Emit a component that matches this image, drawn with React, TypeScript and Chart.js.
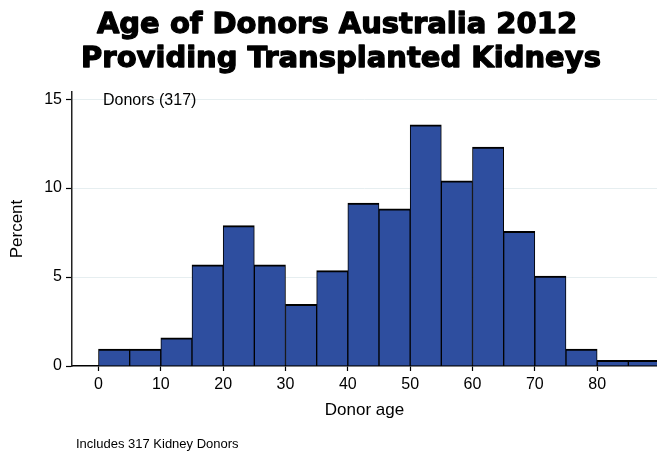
import React, { useEffect, useRef } from "react";
import { Chart, registerables } from "chart.js";

Chart.register(...registerables);

const binStarts = [0, 5, 10, 15, 20, 25, 30, 35, 40, 45, 50, 55, 60, 65, 70, 75, 80, 85];
const binWidth = 5;
const percents = [0.95, 0.95, 1.58, 5.68, 7.89, 5.68, 3.47, 5.36, 9.15, 8.83, 13.56, 10.41, 12.3, 7.57, 5.05, 0.95, 0.32, 0.32];
const xTicks = [0, 10, 20, 30, 40, 50, 60, 70, 80];
const yTicks = [0, 5, 10, 15];
const titleLines = ["Age of Donors Australia 2012", "Providing Transplanted Kidneys"];
const legendText = "Donors (317)";
const noteText = "Includes 317 Kidney Donors";

const textPlugin = {
  id: "textPlugin",
  afterDraw(chart: any) {
    const ctx = chart.ctx;
    const area = chart.chartArea;
    ctx.save();
    ctx.fillStyle = "#000";
    ctx.strokeStyle = "#000";
    ctx.textAlign = "center";
    ctx.textBaseline = "alphabetic";
    ctx.font = 'bold 29px "DejaVu Sans"';
    ctx.lineWidth = 1.3;
    ctx.lineJoin = "round";
    ctx.fillText(titleLines[0], 337, 33);
    ctx.strokeText(titleLines[0], 337, 33);
    ctx.fillText(titleLines[1], 341, 67);
    ctx.strokeText(titleLines[1], 341, 67);
    ctx.textAlign = "left";
    ctx.textBaseline = "middle";
    ctx.font = '16px "Liberation Sans"';
    ctx.fillText(legendText, area.left + 31, area.top + 9);
    ctx.font = '13px "Liberation Sans"';
    ctx.fillText(noteText, 76, 444);
    ctx.restore();
  },
};

export default function App() {
  const ref = useRef<HTMLCanvasElement>(null);
  useEffect(() => {
    document.body.style.margin = "0";
    const data = binStarts.map((s, i) => ({ x: s + binWidth / 2, y: percents[i] }));
    const chart = new Chart(ref.current!, {
      type: "bar",
      data: {
        datasets: [
          {
            data: data as any,
            backgroundColor: "#2E4E9F",
            borderColor: "#000",
            borderWidth: { top: 2, left: 1, right: 1, bottom: 0 } as any,
            borderSkipped: false,
            barPercentage: 1,
            categoryPercentage: 1,
          },
        ],
      },
      options: {
        responsive: false,
        animation: false,
        layout: { padding: { top: 92, right: 0, bottom: 0, left: 0 } },
        plugins: { legend: { display: false }, tooltip: { enabled: false }, title: { display: false } },
        scales: {
          x: {
            type: "linear",
            offset: false,
            min: -4.25,
            max: 89.6,
            afterBuildTicks: (s: any) => {
              s.ticks = xTicks.map((v) => ({ value: v }));
            },
            afterFit: (s: any) => {
              s.height = 87;
            },
            border: { color: "#000", width: 1.5 },
            grid: { offset: false, drawOnChartArea: false, tickColor: "#000", tickLength: 5, tickWidth: 1.2 },
            ticks: { color: "#000", font: { family: "Liberation Sans", size: 16 }, padding: 4, maxRotation: 0 },
            title: {
              display: true,
              text: "Donor age",
              color: "#000",
              font: { family: "Liberation Sans", size: 17 },
              padding: { top: 0, bottom: 32 },
            },
          },
          y: {
            min: 0,
            max: 15.4,
            afterBuildTicks: (s: any) => {
              s.ticks = yTicks.map((v) => ({ value: v }));
            },
            afterFit: (s: any) => {
              s.width = 72;
            },
            border: { color: "#222", width: 1.5 },
            grid: {
              color: (c: any) => (c.tick && c.tick.value === 0 ? "rgba(0,0,0,0)" : "#E6EEF0"),
              tickColor: "#000",
              tickLength: 6,
              tickWidth: 1.2,
              lineWidth: 1,
            },
            ticks: { color: "#000", font: { family: "Liberation Sans", size: 16 }, padding: 4 },
            title: {
              display: true,
              text: "Percent",
              color: "#000",
              font: { family: "Liberation Sans", size: 17 },
              padding: { top: 7, bottom: 0 },
            },
          },
        },
      },
      plugins: [textPlugin],
    });
    return () => chart.destroy();
  }, []);
  return (
    <div style={{ width: 657, height: 453 }}>
      <canvas ref={ref} width={657} height={453} />
    </div>
  );
}
